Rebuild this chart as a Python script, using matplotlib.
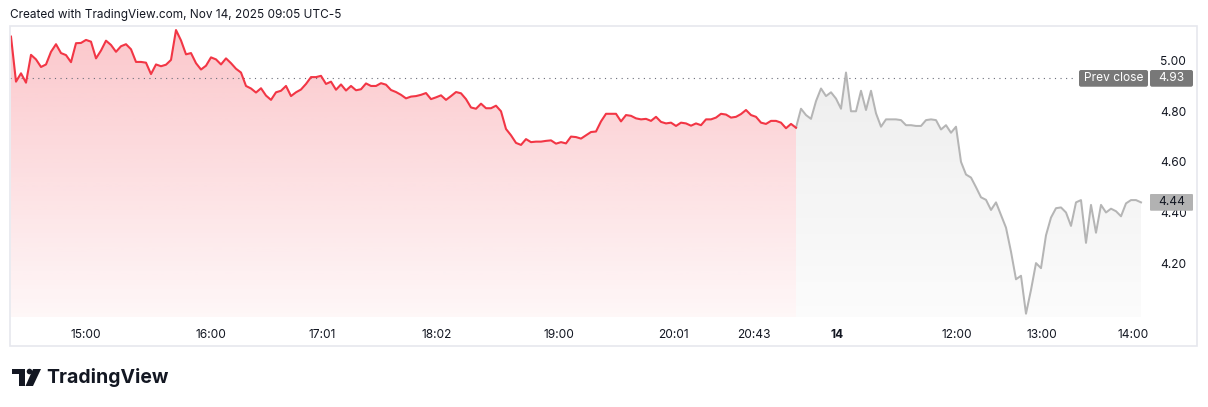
import matplotlib
matplotlib.use("Agg")
import matplotlib.pyplot as plt
import numpy as np
from matplotlib.patches import FancyBboxPatch, Rectangle, Polygon, Circle
from matplotlib.transforms import IdentityTransform

# ---------------- data ----------------
# regular session (red), one value per bar
red_values = [
    5.095, 4.917, 4.95, 4.913, 5.023, 5.005, 4.975, 4.985, 5.035, 5.065,
    5.03, 5.022, 4.994, 5.069, 5.07, 5.082, 5.075, 5.009, 5.04, 5.079,
    5.062, 5.035, 5.057, 5.065, 5.045, 4.995, 4.995, 4.992, 4.947, 4.985,
    4.978, 4.984, 5.003, 5.121, 5.08, 5.025, 5.03, 4.99, 4.965, 4.98,
    5.013, 5.005, 4.985, 5.009, 4.99, 4.968, 4.953, 4.9, 4.89, 4.874,
    4.891, 4.862, 4.845, 4.875, 4.881, 4.9, 4.86, 4.875, 4.886, 4.908,
    4.935, 4.935, 4.94, 4.908, 4.917, 4.885, 4.906, 4.882, 4.9, 4.883,
    4.887, 4.91, 4.9, 4.9, 4.911, 4.905, 4.884, 4.876, 4.865, 4.851,
    4.858, 4.86, 4.865, 4.872, 4.848, 4.855, 4.863, 4.845, 4.86, 4.876,
    4.871, 4.848, 4.815, 4.81, 4.83, 4.812, 4.812, 4.822, 4.8, 4.73,
    4.705, 4.675, 4.667, 4.69, 4.678, 4.68, 4.68, 4.683, 4.685, 4.672,
    4.678, 4.673, 4.7, 4.698, 4.692, 4.705, 4.718, 4.72, 4.76, 4.79,
    4.79, 4.79, 4.76, 4.785, 4.782, 4.772, 4.768, 4.77, 4.762, 4.778,
    4.758, 4.752, 4.755, 4.742, 4.755, 4.752, 4.743, 4.752, 4.745, 4.768,
    4.768, 4.775, 4.79, 4.787, 4.775, 4.778, 4.789, 4.805, 4.785, 4.778,
    4.755, 4.75, 4.762, 4.762, 4.755, 4.733, 4.75, 4.735,
]
# next day (gray), continues from the last red bar
gray_values = [
    4.81, 4.785, 4.77, 4.84, 4.89, 4.86, 4.875, 4.85, 4.81, 4.953,
    4.8, 4.8, 4.881, 4.805, 4.881, 4.792, 4.739, 4.768, 4.768, 4.768,
    4.765, 4.745, 4.745, 4.742, 4.742, 4.765, 4.768, 4.765, 4.728, 4.745,
    4.715, 4.739, 4.6, 4.55, 4.538, 4.5, 4.46, 4.45, 4.41, 4.44,
    4.39, 4.34, 4.245, 4.136, 4.15, 4.0, 4.094, 4.2, 4.18, 4.31,
    4.38, 4.417, 4.42, 4.4, 4.347, 4.44, 4.449, 4.28, 4.43, 4.32,
    4.43, 4.4, 4.415, 4.405, 4.385, 4.436, 4.449, 4.449, 4.44,
]
x_tick_bars = [15.0, 40.0, 62.2, 85.2, 109.6, 132.4, 148.6, 165.2, 189.2, 206.2, 224.4]
x_tick_labels = ["15:00", "16:00", "17:01", "18:02", "19:00", "20:01", "20:43",
                 "14", "12:00", "13:00", "14:00"]
y_ticks = [4.20, 4.40, 4.60, 4.80, 5.00]
prev_close = 4.93
last_price = 4.44
header = "Created with TradingView.com, Nov 14, 2025 09:05 UTC-5"

# ---------------- style ----------------
FONT = "Inter"
plt.rcParams["font.family"] = [FONT, "DejaVu Sans"]
RED = "#F23645"
GRAY_LINE = "#b5b5b5"
TEXT = "#131722"

W, H = 1208, 407
fig = plt.figure(figsize=(W / 100, H / 100), dpi=100)
fig.patch.set_facecolor("white")

def fx(px):
    return px / W

def fy(py):
    return 1 - py / H

top_px, bot_px, left_px, right_px = 27, 317, 10, 1197
ax = fig.add_axes([fx(left_px), fy(bot_px), fx(right_px) - fx(left_px), fy(top_px) - fy(bot_px)])
ax.set_facecolor("none")
for s in ax.spines.values():
    s.set_visible(False)

n_red = len(red_values)
x_red = np.arange(n_red)
gray_full = [red_values[-1]] + gray_values
x_gray = np.arange(n_red - 1, n_red - 1 + len(gray_full))

y_lo, y_hi = 3.987, 5.133
x_lo, x_hi = -0.2, 237.2


def grad_fill(x, y, rgb, a_top, a_bot):
    verts = [(x[0], y_lo)] + list(zip(x, y)) + [(x[-1], y_lo)]
    poly = Polygon(verts, closed=True, facecolor="none", edgecolor="none")
    ax.add_patch(poly)
    n = 256
    img = np.zeros((n, 1, 4))
    img[..., 0], img[..., 1], img[..., 2] = rgb
    img[:, 0, 3] = np.linspace(a_top, a_bot, n)
    im = ax.imshow(img, aspect="auto", extent=[x[0], x[-1], y_lo, max(y)],
                   origin="upper", zorder=1, interpolation="bilinear")
    im.set_clip_path(poly)


grad_fill(x_red, red_values, (242 / 255, 54 / 255, 69 / 255), 0.28, 0.04)
grad_fill(x_gray, gray_full, (0.55, 0.55, 0.55), 0.15, 0.03)

ax.plot(x_gray, gray_full, color=GRAY_LINE, lw=1.45, zorder=3, solid_joinstyle="round")
ax.plot(x_red, red_values, color=RED, lw=1.5, zorder=4, solid_joinstyle="round")

# prev close dotted line
ax.axhline(prev_close, xmin=0.0, xmax=(1075 - left_px) / (right_px - left_px),
           color="#6a6d78", lw=0.8, linestyle=(0, (1, 4)), zorder=2)

ax.set_xlim(x_lo, x_hi)
ax.set_ylim(y_lo, y_hi)

ax.set_xticks(x_tick_bars, x_tick_labels)
ax.tick_params(axis="x", length=0, pad=9, labelsize=8.6, labelcolor=TEXT)
ax.get_xticklabels()[7].set_fontweight("bold")

ax.yaxis.tick_right()
ax.set_yticks(y_ticks, [f"{v:.2f}" for v in y_ticks])
ax.tick_params(axis="y", length=0, pad=-37 * 0.72, labelsize=8.6, labelcolor=TEXT)
for lab in ax.get_yticklabels():
    lab.set_horizontalalignment("left")

# frame
fig.add_artist(Rectangle((left_px, H - 346), right_px - left_px, 346 - 26,
                         transform=IdentityTransform(), facecolor="none",
                         edgecolor="#e6e8ee", lw=1.2, zorder=0.5))

# header
fig.text(fx(10), fy(15), header, fontsize=8.5, color=TEXT, ha="left", va="center")

# price tags
def val_py(v):
    return ax.transData.transform((0, v))[1]

ypc = val_py(prev_close)
hh = 16.7
fig.add_artist(FancyBboxPatch((1079, ypc - hh / 2), 69, hh, boxstyle="round,pad=0,rounding_size=2",
                              transform=IdentityTransform(), facecolor="#787878", edgecolor="none", zorder=5))
fig.add_artist(FancyBboxPatch((1150, ypc - hh / 2), 43, hh, boxstyle="round,pad=0,rounding_size=2",
                              transform=IdentityTransform(), facecolor="#787878", edgecolor="none", zorder=5))
fig.text(1113.5 / W, ypc / H, "Prev close", fontsize=8.6, color="white", ha="center", va="center", zorder=6)
fig.text(1171.5 / W, ypc / H, f"{prev_close:.2f}", fontsize=8.6, color="white", ha="center", va="center", zorder=6)

ylp = val_py(last_price)
fig.add_artist(FancyBboxPatch((1150, ylp - hh / 2), 43, hh, boxstyle="round,pad=0,rounding_size=1",
                              transform=IdentityTransform(), facecolor="#b2b2b2", edgecolor="none", zorder=5))
fig.text(1171.5 / W, ylp / H, f"{last_price:.2f}", fontsize=8.6, color=TEXT, ha="center", va="center", zorder=6)

# TradingView logo
lt = IdentityTransform()
ly = H - 386  # bottom of logo (display coords)
fig.add_artist(Rectangle((12, H - 374), 13, 5.5, transform=lt, facecolor="#131722", edgecolor="none"))
fig.add_artist(Rectangle((18.5, ly), 6.5, 17, transform=lt, facecolor="#131722", edgecolor="none"))
fig.add_artist(Circle((29.5, H - 371.5), 2.8, transform=lt, facecolor="#131722", edgecolor="none"))
fig.add_artist(Polygon([(33, H - 369), (41, H - 369), (33, ly), (25.5, ly)], closed=True,
                       transform=lt, facecolor="#131722", edgecolor="none"))
fig.text(fx(46), fy(377.5), "TradingView", fontsize=14, fontweight="bold", color="#131722",
         ha="left", va="center")

fig.savefig("out.png", dpi=100, facecolor="white")
